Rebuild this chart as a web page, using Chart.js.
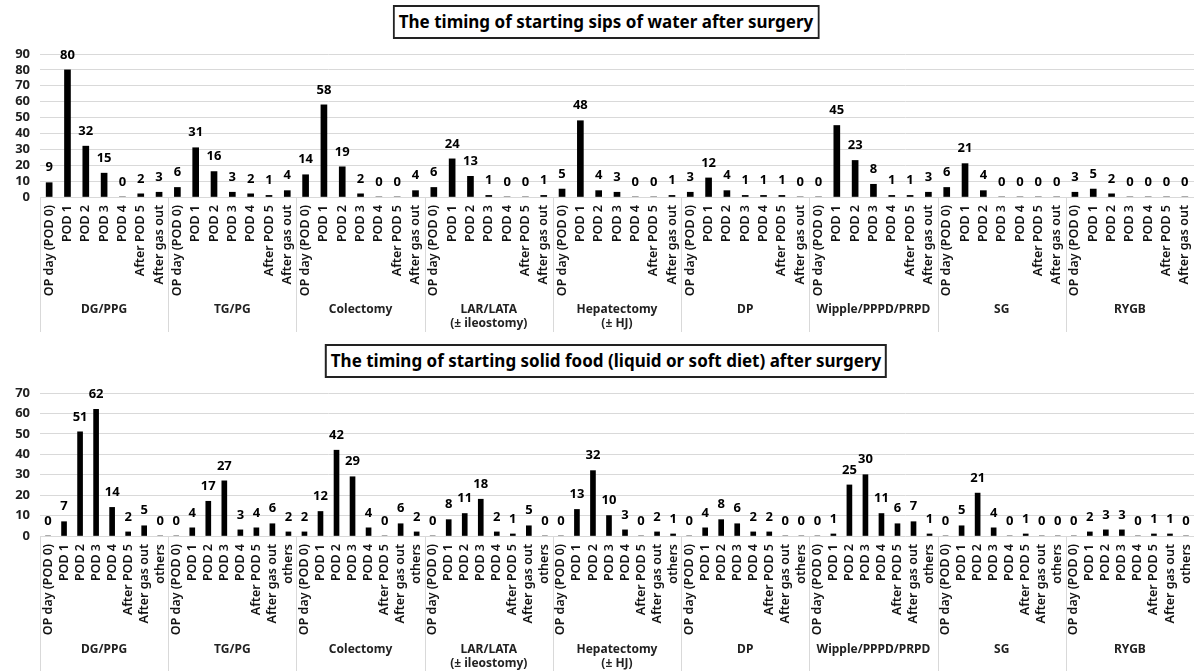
<!DOCTYPE html>
<html>
<head>
<meta charset="utf-8">
<script src="https://cdn.jsdelivr.net/npm/chart.js@4.4.0/dist/chart.umd.min.js"></script>
<style>
html,body{margin:0;padding:0;background:#fff;}
body{width:1194px;height:671px;position:relative;overflow:hidden;font-family:'Noto Sans',sans-serif;}
.title{position:absolute;z-index:2;border:2px solid #222;font-weight:bold;font-size:17px;padding:0 4px;height:30px;line-height:30px;white-space:nowrap;transform:translateX(-50%);left:606px;color:#000;background:#fff;}
.wrap{position:absolute;left:0;width:1194px;}
#w1{top:0;height:335px;}
#w2{top:335px;height:336px;}
</style>
</head>
<body>
<div class="title" style="top:5px">The timing of starting sips of water after surgery</div>
<div class="title" style="top:344px">The timing of starting solid food (liquid or soft diet) after surgery</div>
<div class="wrap" id="w1"><canvas id="c1"></canvas></div>
<div class="wrap" id="w2"><canvas id="c2"></canvas></div>
<script>
// ---- categories ----
const groupLabels = ['DG/PPG', 'TG/PG', 'Colectomy', ['LAR/LATA', '(± ileostomy)'], ['Hepatectomy', '(± HJ)'], 'DP', 'Wipple/PPPD/PRPD', 'SG', 'RYGB'];
const waterCats = ['OP day (POD 0)', 'POD 1', 'POD 2', 'POD 3', 'POD 4', 'After POD 5', 'After gas out'];
const foodCats = ['OP day (POD 0)', 'POD 1', 'POD 2', 'POD 3', 'POD 4', 'After POD 5', 'After gas out', 'others'];

// ---- sips of water ----
const waterDG = [9, 80, 32, 15, 0, 2, 3];
const waterTG = [6, 31, 16, 3, 2, 1, 4];
const waterColectomy = [14, 58, 19, 2, 0, 0, 4];
const waterLAR = [6, 24, 13, 1, 0, 0, 1];
const waterHepatectomy = [5, 48, 4, 3, 0, 0, 1];
const waterDP = [3, 12, 4, 1, 1, 1, 0];
const waterWipple = [0, 45, 23, 8, 1, 1, 3];
const waterSG = [6, 21, 4, 0, 0, 0, 0];
const waterRYGB = [3, 5, 2, 0, 0, 0, 0];

// ---- solid food ----
const foodDG = [0, 7, 51, 62, 14, 2, 5, 0];
const foodTG = [0, 4, 17, 27, 3, 4, 6, 2];
const foodColectomy = [2, 12, 42, 29, 4, 0, 6, 2];
const foodLAR = [0, 8, 11, 18, 2, 1, 5, 0];
const foodHepatectomy = [0, 13, 32, 10, 3, 0, 2, 1];
const foodDP = [0, 4, 8, 6, 2, 2, 0, 0];
const foodWipple = [0, 1, 25, 30, 11, 6, 7, 1];
const foodSG = [0, 5, 21, 4, 0, 1, 0, 0];
const foodRYGB = [0, 2, 3, 3, 0, 1, 1, 0];

// ---- y ticks ----
const waterTicks = [0, 10, 20, 30, 40, 50, 60, 70, 80, 90];
const foodTicks = [0, 10, 20, 30, 40, 50, 60, 70];

const FONT = "'Noto Sans', sans-serif";

const waterGroups = [waterDG, waterTG, waterColectomy, waterLAR, waterHepatectomy, waterDP, waterWipple, waterSG, waterRYGB];
const foodGroups = [foodDG, foodTG, foodColectomy, foodLAR, foodHepatectomy, foodDP, foodWipple, foodSG, foodRYGB];

const valueLabels = {
  id: 'valueLabels',
  afterDatasetsDraw(chart) {
    const ctx = chart.ctx;
    ctx.save();
    ctx.font = 'bold 13px ' + FONT;
    ctx.fillStyle = '#000';
    ctx.textAlign = 'center';
    ctx.textBaseline = 'middle';
    chart.data.datasets.forEach((ds, di) => {
      chart.getDatasetMeta(di).data.forEach((el, i) => {
        ctx.fillText(String(ds.data[i]), el.x, el.y - 15);
      });
    });
    ctx.restore();
  }
};

const groupSeparators = {
  id: 'groupSeparators',
  afterDraw(chart, args, opts) {
    const x = chart.scales.x;
    const n = opts.perGroup;
    const step = x.getPixelForTick(1) - x.getPixelForTick(0);
    const ctx = chart.ctx;
    ctx.save();
    ctx.strokeStyle = '#d9d9d9';
    ctx.lineWidth = 1;
    for (let g = 0; g <= groupLabels.length; g++) {
      let px;
      if (g < groupLabels.length) px = x.getPixelForTick(g * n) - step / 2;
      else px = x.getPixelForTick(g * n - 1) + step / 2;
      px = Math.round(px) + 0.5;
      ctx.beginPath();
      ctx.moveTo(px, chart.chartArea.bottom);
      ctx.lineTo(px, chart.height - opts.bottomGap);
      ctx.stroke();
    }
    ctx.restore();
  }
};

function makeChart(id, cats, groups, ticks, cfg) {
  const labels = [];
  const values = [];
  groups.forEach(g => { cats.forEach(c => labels.push(c)); g.forEach(v => values.push(v)); });
  return new Chart(document.getElementById(id), {
    type: 'bar',
    data: {
      labels: labels,
      datasets: [{ data: values, backgroundColor: '#000', borderWidth: 0, barThickness: cfg.bar }]
    },
    options: {
      responsive: true,
      maintainAspectRatio: false,
      animation: false,
      events: [],
      layout: { padding: { top: cfg.top, left: 0, right: 0, bottom: 0 } },
      plugins: {
        legend: { display: false },
        tooltip: { enabled: false },
        title: { display: false },
        groupSeparators: { perGroup: cats.length, bottomGap: cfg.sepGap }
      },
      scales: {
        y: {
          min: 0,
          max: ticks[ticks.length - 1],
          afterBuildTicks(s) { s.ticks = ticks.map(v => ({ value: v })); },
          afterFit(s) { s.width = 40; s.paddingTop = 0; s.paddingBottom = 0; },
          grid: { color: '#d9d9d9', drawTicks: false, lineWidth: 1 },
          border: { display: false },
          ticks: { autoSkip: false, padding: 10, color: '#222', font: { family: FONT, size: 13, weight: 'bold' } }
        },
        x: {
          type: 'category',
          position: 'bottom',
          weight: 0,
          offset: true,
          grid: { display: false, drawTicks: false },
          border: { display: false },
          afterFit(s) { s.height = cfg.catH; s.paddingLeft = 0; s.paddingRight = 0; },
          ticks: {
            autoSkip: false, minRotation: 90, maxRotation: 90, padding: 8,
            color: '#111', font: { family: FONT, size: 12.5, weight: '600' }
          }
        },
        groups: {
          type: 'category',
          position: 'bottom',
          weight: 1,
          labels: groupLabels,
          offset: true,
          grid: { display: false, drawTicks: false },
          border: { display: false },
          afterFit(s) { s.height = cfg.grpH; s.paddingLeft = 0; s.paddingRight = 0; },
          ticks: {
            autoSkip: false, minRotation: 0, maxRotation: 0, padding: cfg.grpPad,
            color: '#222', font: { family: FONT, size: 12, weight: 'bold' }
          }
        }
      }
    },
    plugins: [valueLabels, groupSeparators]
  });
}

makeChart('c1', waterCats, waterGroups, waterTicks, { top: 54, catH: 101, grpH: 37, grpPad: 4, bar: 6, sepGap: 3 });
makeChart('c2', foodCats, foodGroups, foodTicks, { top: 58, catH: 104, grpH: 31, grpPad: 2, bar: 5, sepGap: 0 });
</script>
</body>
</html>
